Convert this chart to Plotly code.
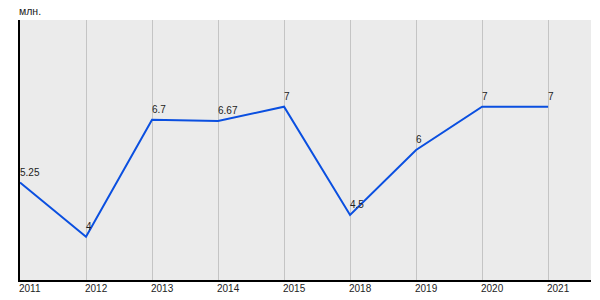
import plotly.graph_objects as go

years = ["2011", "2012", "2013", "2014", "2015", "2018", "2019", "2020", "2021"]
values = [5.25, 4, 6.7, 6.67, 7, 4.5, 6, 7, 7]
labels = ["5.25", "4", "6.7", "6.67", "7", "4.5", "6", "7", "7"]
unit = "млн."

xs = list(range(len(years)))
FONT = "Liberation Sans Narrow, Arial Narrow, Liberation Sans"

fig = go.Figure()
fig.add_trace(go.Scatter(
    x=xs, y=values, mode="lines",
    line=dict(color="#0a4fe0", width=2),
    cliponaxis=False, hoverinfo="skip",
))

for i, (v, t) in enumerate(zip(values, labels)):
    fig.add_annotation(x=i, y=v, xref="x", yref="y", text=t, showarrow=False,
                       xanchor="left", yanchor="bottom", xshift=-2, yshift=3,
                       font=dict(family=FONT, size=10, color="#222222"))

for i, y in enumerate(years):
    fig.add_annotation(x=i, y=0, xref="x", yref="paper", text=y, showarrow=False,
                       xanchor="left", yanchor="top", xshift=-3, yshift=-1,
                       font=dict(family=FONT, size=10, color="#222222"))

fig.add_annotation(x=0, y=1, xref="paper", yref="paper", text=unit, showarrow=False,
                   xanchor="left", yanchor="bottom", yshift=1, xshift=-3,
                   font=dict(family="Liberation Sans, Arial", size=10.5, color="#222222"))

fig.update_layout(
    width=600, height=300,
    margin=dict(l=20, r=9, t=20, b=20),
    paper_bgcolor="white", plot_bgcolor="#ebebeb",
    showlegend=False,
    xaxis=dict(range=[0, 8.65], tickvals=xs, showticklabels=False,
               showgrid=True, gridcolor="#c4c4c4", gridwidth=1,
               showline=True, linecolor="black", linewidth=2, zeroline=False, fixedrange=True),
    yaxis=dict(range=[3, 9], showticklabels=False, showgrid=False,
               showline=True, linecolor="black", linewidth=2, zeroline=False, fixedrange=True),
)

fig.write_html("out.html")
